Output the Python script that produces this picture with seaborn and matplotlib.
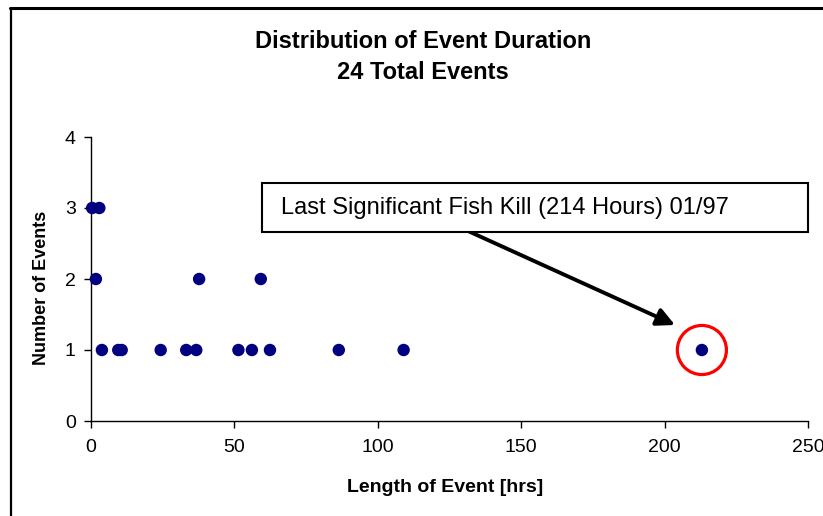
import matplotlib
matplotlib.use("Agg")
import matplotlib.pyplot as plt
import seaborn as sns
import pandas as pd
from matplotlib.lines import Line2D
from matplotlib.patches import Rectangle

# Data
durations = [0.4, 2.9, 1.7, 37.7, 59.2, 3.8, 9.5, 10.7, 24.3, 33.2, 36.7, 51.4, 56.1, 62.4, 86.4, 109.0, 213.0]
counts    = [3,   3,   2,   2,    2,    1,   1,   1,    1,    1,    1,    1,    1,    1,    1,    1,     1]
x_ticks = [0, 50, 100, 150, 200, 250]
y_ticks = [0, 1, 2, 3, 4]
title = "Distribution of Event Duration\n24 Total Events"
x_label = "Length of Event [hrs]"
y_label = "Number of Events"
note = "Last Significant Fish Kill (214 Hours) 01/97"
highlight_x = [213.0]
highlight_y = [1]

df = pd.DataFrame({"duration": durations, "count": counts})

sns.set_theme(style="white")
plt.rcParams["font.family"] = ["Liberation Sans", "DejaVu Sans"]
plt.rcParams["text.color"] = "black"

W, H = 823, 516
fig = plt.figure(figsize=(W / 100, H / 100), dpi=100)
ax = fig.add_axes([91 / W, 1 - 421 / H, (808 - 91) / W, (421 - 137) / H])

sns.scatterplot(data=df, x="duration", y="count", ax=ax, color="#000080",
                s=80, edgecolor="none", clip_on=False, zorder=3)
# highlight circle
ax.scatter(highlight_x, highlight_y, s=1250, facecolors="none",
           edgecolors="#ff0000", linewidths=2.3, zorder=4, clip_on=False)

ax.set_xlim(0, 250)
ax.set_ylim(0, 4)
ax.set_xticks(x_ticks)
ax.set_yticks(y_ticks)
ax.tick_params(axis="both", labelsize=14, direction="out", length=5, width=1,
               colors="black", labelcolor="black", bottom=True, left=True)
ax.tick_params(axis="x", pad=8)
ax.tick_params(axis="y", pad=6)
for s in ["top", "right"]:
    ax.spines[s].set_visible(False)
for s in ["left", "bottom"]:
    ax.spines[s].set_color("black")
    ax.spines[s].set_linewidth(1)
ax.grid(False)

ax.set_xlabel(x_label, fontsize=14, fontweight="bold", color="black", va="center")
ax.xaxis.set_label_coords((445 - 91) / 717, -(487 - 421) / 284)
ax.set_ylabel(y_label, fontsize=13, fontweight="bold", color="black", va="center")
ax.yaxis.set_label_coords((42 - 91) / 717, (421 - 288) / 284)

fig.text(423 / W, 1 - 57 / H, title, ha="center", va="center",
         fontsize=17, fontweight="bold", linespacing=1.4, color="black")

# annotation box and arrow
ax.annotate("", xy=(675, H - 325), xycoords="figure pixels",
            xytext=(468, H - 231), textcoords="figure pixels",
            arrowprops=dict(arrowstyle="-|>,head_length=0.9,head_width=0.45",
                            color="black", lw=2.8, shrinkA=0, shrinkB=0))
fig.add_artist(Rectangle((262 / W, 1 - 232 / H), (808 - 262) / W, (232 - 183) / H,
                         transform=fig.transFigure, facecolor="white",
                         edgecolor="black", linewidth=1.5, zorder=5))
fig.text(281 / W, 1 - 208 / H, note, ha="left", va="center", fontsize=17,
         color="black", zorder=6)

# figure border (top and left)
fig.add_artist(Line2D([10.8 / W, 10.8 / W], [0, 1 - 7.5 / H], transform=fig.transFigure,
                      color="black", lw=1.6))
fig.add_artist(Line2D([10 / W, 1], [1 - 7.5 / H, 1 - 7.5 / H], transform=fig.transFigure,
                      color="black", lw=2.2))

fig.savefig("out.png", dpi=100, facecolor="white")
